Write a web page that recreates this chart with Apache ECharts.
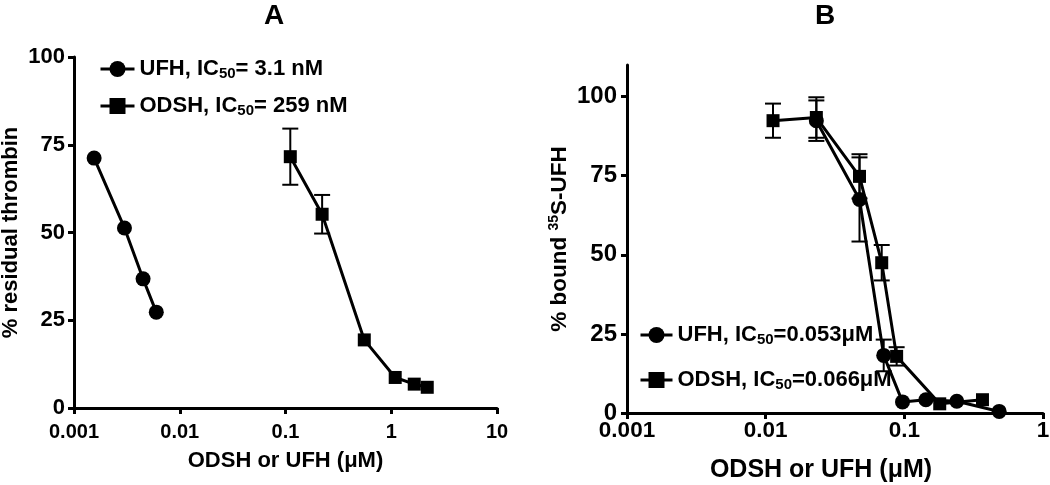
<!DOCTYPE html>
<html>
<head>
<meta charset="utf-8">
<script src="https://cdn.jsdelivr.net/npm/echarts@6/dist/echarts.min.js"></script>
<style>
  html, body { margin: 0; padding: 0; background: #fff; }
  #chart { width: 1050px; height: 485px; }
</style>
</head>
<body>
<div id="chart"></div>
<script>
// panel A: residual thrombin
const aUfhConc = [0.00155, 0.0030, 0.0045, 0.0060]
const aUfhResidual = [71.2, 51.3, 36.8, 27.3]
const aOdshConc = [0.111, 0.222, 0.556, 1.09, 1.65, 2.19]
const aOdshResidual = [71.6, 55.2, 19.4, 8.7, 6.8, 5.9]
const aOdshErr = [8, 5.5, 0, 0, 0, 0]

// panel B: bound 35S-UFH
const bOdshConc = [0.0113, 0.0232, 0.0475, 0.0687, 0.088, 0.18, 0.366]
const bOdshBound = [92.4, 93.4, 74.8, 47.5, 17.9, 2.9, 4.2]
const bOdshErr = [5.4, 6.4, 7, 5.6, 2.9, 0, 0]
const bUfhConc = [0.0232, 0.0475, 0.071, 0.097, 0.143, 0.239, 0.483]
const bUfhBound = [92.4, 67.5, 18.2, 3.5, 4.2, 3.7, 0.5]
const bUfhErr = [6.4, 13.3, 5, 0, 0, 0, 0]

const yTicks = [0, 25, 50, 75, 100]

const FONT = '"Liberation Sans", Arial, sans-serif'
const chart = echarts.init(document.getElementById('chart'))

const pairs = (xs, ys) => xs.map((x, i) => [x, ys[i]])
const errRows = (xs, ys, es) =>
  xs.map((x, i) => [x, ys[i] - es[i], ys[i] + es[i]]).filter((r, i) => es[i] > 0)

function errorBar(params, api) {
  const x = api.value(0)
  const hi = api.coord([x, api.value(2)])
  const lo = api.coord([x, api.value(1)])
  const w = 8
  const style = { stroke: '#000', lineWidth: 2 }
  return {
    type: 'group',
    children: [
      { type: 'line', shape: { x1: hi[0], y1: hi[1], x2: lo[0], y2: lo[1] }, style },
      { type: 'line', shape: { x1: hi[0] - w, y1: hi[1], x2: hi[0] + w, y2: hi[1] }, style },
      { type: 'line', shape: { x1: lo[0] - w, y1: lo[1], x2: lo[0] + w, y2: lo[1] }, style }
    ]
  }
}

const legendName = n => {
  const [pre, post] = n.split('IC50')
  return '{t|' + pre + 'IC}{sub|50}{t|' + post + '}'
}
const legendRich = size => ({
  t: { fontSize: size, fontWeight: 'bold', fontFamily: FONT, color: '#000', lineHeight: 24 },
  sub: { fontSize: 15, fontWeight: 'bold', fontFamily: FONT, color: '#000', lineHeight: 8, verticalAlign: 'bottom' }
})

const axisLine = { lineStyle: { color: '#000', width: 3 } }
const axisTick = { length: 6, lineStyle: { color: '#000', width: 3 } }
const logLabel = v => String(+v.toPrecision(3))
const txt = size => ({ fontSize: size, fontWeight: 'bold', fontFamily: FONT, color: '#000' })

const lineSeries = (name, data, symbol, size, idx) => ({
  name,
  type: 'line',
  xAxisIndex: idx,
  yAxisIndex: idx,
  data,
  symbol,
  symbolSize: size,
  lineStyle: { color: '#000', width: 3 },
  itemStyle: { color: '#000' },
  z: 3
})

const errSeries = (data, idx) => ({
  type: 'custom',
  xAxisIndex: idx,
  yAxisIndex: idx,
  renderItem: errorBar,
  data,
  z: 2
})

const A1 = 'UFH, IC50= 3.1 nM'
const A2 = 'ODSH, IC50= 259 nM'
const B1 = 'UFH, IC50=0.053μM'
const B2 = 'ODSH, IC50=0.066μM'

chart.setOption({
  animation: false,
  backgroundColor: '#fff',
  title: [
    { text: 'A', left: 269, top: -3, textAlign: 'center', textStyle: txt(28) },
    { text: 'B', left: 820, top: -3, textAlign: 'center', textStyle: txt(28) }
  ],
  legend: [
    {
      data: [A1, A2], orient: 'vertical', left: 94, top: 53,
      itemWidth: 34, itemHeight: 20, itemGap: 14,
      lineStyle: { width: 3 },
      formatter: legendName,
      textStyle: { rich: legendRich(22) }
    },
    {
      data: [B1, B2], orient: 'vertical', left: 634, top: 319,
      itemWidth: 32, itemHeight: 20, itemGap: 22,
      lineStyle: { width: 3 },
      formatter: legendName,
      textStyle: { rich: legendRich(22) }
    }
  ],
  grid: [
    { left: 74, top: 57, width: 423, height: 351, outerBoundsMode: 'none' },
    { left: 627, top: 65, width: 416, height: 348, outerBoundsMode: 'none' }
  ],
  xAxis: [
    {
      type: 'log', gridIndex: 0, min: 0.001, max: 10,
      axisLine, axisTick, splitLine: { show: false },
      axisLabel: Object.assign({ formatter: logLabel, margin: 14 }, txt(20)),
      name: 'ODSH or UFH (μM)', nameLocation: 'middle', nameGap: 42,
      nameTextStyle: txt(22)
    },
    {
      type: 'log', gridIndex: 1, min: 0.001, max: 1,
      axisLine, axisTick, splitLine: { show: false },
      axisLabel: Object.assign({ formatter: logLabel, margin: 6 }, txt(22.5)),
      name: 'ODSH or UFH (μM)', nameLocation: 'middle', nameGap: 45,
      nameTextStyle: Object.assign({ padding: [0, 28, 0, 0] }, txt(25))
    }
  ],
  yAxis: [
    {
      type: 'value', gridIndex: 0, min: 0, max: 100, interval: 25,
      axisLine: { show: true, lineStyle: axisLine.lineStyle },
      axisTick: { show: true, length: 6, lineStyle: axisTick.lineStyle },
      splitLine: { show: false },
      axisLabel: Object.assign({ margin: 9 }, txt(22)),
      name: '% residual thrombin', nameLocation: 'middle', nameGap: 52, nameRotate: 90,
      nameTextStyle: txt(22)
    },
    {
      type: 'value', gridIndex: 1, min: 0, max: 110,
      axisLine: { show: true, lineStyle: axisLine.lineStyle },
      axisTick: { show: true, length: 6, lineStyle: axisTick.lineStyle, customValues: yTicks },
      splitLine: { show: false },
      axisLabel: Object.assign({ customValues: yTicks, margin: 10 }, txt(24)),
      name: '% bound {sup|35}S-UFH', nameLocation: 'middle', nameGap: 54, nameRotate: 90,
      nameTextStyle: Object.assign({
        lineHeight: 26,
        rich: {
          sup: Object.assign({ lineHeight: 8, verticalAlign: 'top' }, txt(14))
        }
      }, txt(22.5))
    }
  ],
  series: [
    errSeries(errRows(aOdshConc, aOdshResidual, aOdshErr), 0),
    lineSeries(A1, pairs(aUfhConc, aUfhResidual), 'circle', 15, 0),
    lineSeries(A2, pairs(aOdshConc, aOdshResidual), 'rect', 13, 0),
    errSeries(errRows(bOdshConc, bOdshBound, bOdshErr), 1),
    errSeries(errRows(bUfhConc, bUfhBound, bUfhErr), 1),
    lineSeries(B1, pairs(bUfhConc, bUfhBound), 'circle', 15, 1),
    lineSeries(B2, pairs(bOdshConc, bOdshBound), 'rect', 13, 1)
  ]
})
</script>
</body>
</html>
